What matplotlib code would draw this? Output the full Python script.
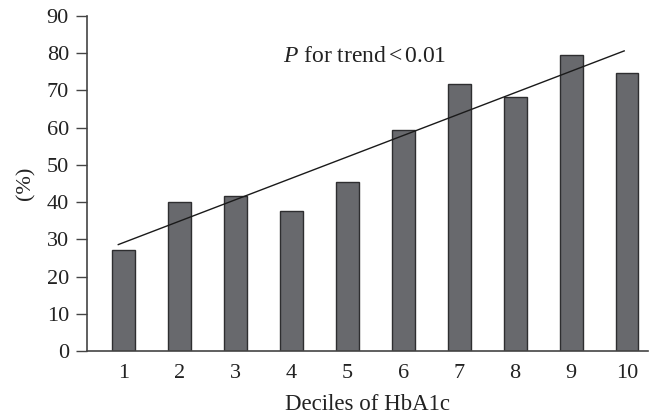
import matplotlib
matplotlib.use("Agg")
import matplotlib.pyplot as plt

deciles = [1, 2, 3, 4, 5, 6, 7, 8, 9, 10]
percent = [27.1, 40.0, 41.7, 37.7, 45.4, 59.4, 71.8, 68.3, 79.6, 74.8]
trend_x = [0.9, 9.95]
trend_y = [28.6, 80.6]
yticks = [0, 10, 20, 30, 40, 50, 60, 70, 80, 90]

plt.rcParams['font.family'] = ['Liberation Serif', 'DejaVu Serif']
plt.rcParams['mathtext.fontset'] = 'custom'
plt.rcParams['mathtext.rm'] = 'Liberation Serif'
plt.rcParams['mathtext.it'] = 'Liberation Serif:italic'

fig = plt.figure(figsize=(6.55, 4.18), dpi=100)
ax = fig.add_axes([0.1328, 0.160, 0.856, 0.802])

ax.bar(deciles, percent, width=0.41, color='#68696d', edgecolor='#2e2e30', linewidth=1.0, zorder=2)
ax.plot(trend_x, trend_y, color='#1a1a1a', linewidth=1.0, zorder=3)

ax.set_xlim(0.34, 10.37)
ax.set_ylim(0, 90)
ax.set_yticks(yticks)
ax.set_xticks(deciles)
ax.tick_params(axis='x', length=0, pad=9, labelsize=16, colors='#222222')
ax.tick_params(axis='y', length=8, width=1.0, direction='out', pad=5, labelsize=16, colors='#444444', labelcolor='#222222')

for s in ['top', 'right']:
    ax.spines[s].set_visible(False)
for s in ['left', 'bottom']:
    ax.spines[s].set_color('#444444')
    ax.spines[s].set_linewidth(1.2)

ax.set_xlabel('Deciles of HbA1c', fontsize=16.5, color='#222222', labelpad=8)
ax.set_ylabel('(%)', fontsize=16, color='#222222', labelpad=8)

ax.text(3.84, 79, r'$P$ for trend$\,$<$\,$0.01', fontsize=17, color='#222222', va='center', ha='left')

fig.savefig('out.png', dpi=100)
